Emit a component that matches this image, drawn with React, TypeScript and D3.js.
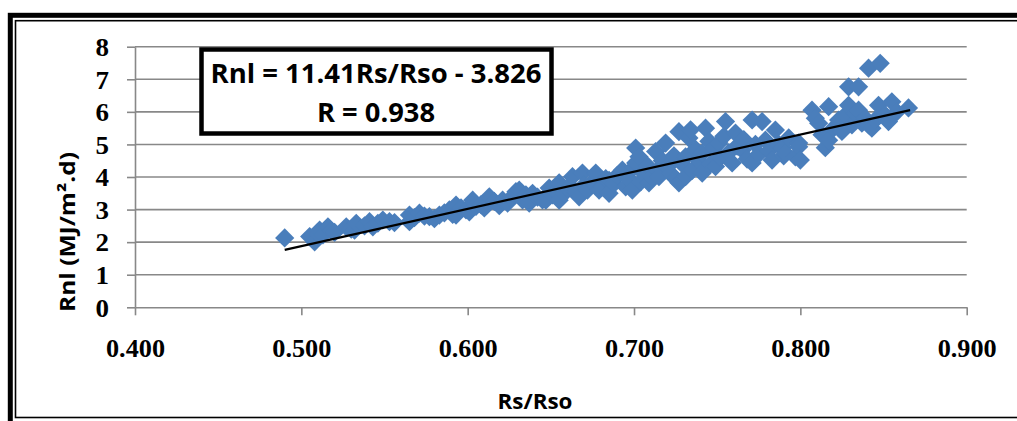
import React, { useEffect, useRef } from 'react';
import * as d3 from 'd3';

// Rs/Rso (x) and Rnl (y) readings
const ratioValues = [
  0.490, 0.505, 0.508, 0.510, 0.511, 0.513, 0.516, 0.518, 0.520, 0.527,
  0.530, 0.532, 0.533, 0.538, 0.541, 0.543, 0.546, 0.549, 0.553, 0.556,
  0.565, 0.565, 0.568, 0.571, 0.574, 0.577, 0.580, 0.583, 0.586, 0.589,
  0.591, 0.593, 0.593, 0.596, 0.599, 0.601, 0.603, 0.605, 0.608, 0.610,
  0.613, 0.616, 0.619, 0.621, 0.624, 0.626, 0.629, 0.631, 0.633, 0.635,
  0.637, 0.639, 0.642, 0.645, 0.647, 0.649, 0.651, 0.653, 0.655, 0.655,
  0.658, 0.660, 0.663, 0.665, 0.667, 0.669, 0.670, 0.672, 0.675, 0.677,
  0.679, 0.681, 0.683, 0.685, 0.685, 0.688, 0.690, 0.693, 0.693, 0.695,
  0.697, 0.699, 0.700, 0.701, 0.701, 0.703, 0.704, 0.706, 0.708, 0.709,
  0.711, 0.713, 0.714, 0.715, 0.717, 0.719, 0.720, 0.722, 0.724, 0.725,
  0.727, 0.727, 0.729, 0.731, 0.731, 0.733, 0.734, 0.735, 0.737, 0.739,
  0.741, 0.741, 0.743, 0.745, 0.746, 0.748, 0.749, 0.751, 0.752, 0.754,
  0.755, 0.757, 0.759, 0.761, 0.762, 0.765, 0.766, 0.768, 0.771, 0.771,
  0.773, 0.775, 0.777, 0.779, 0.781, 0.783, 0.785, 0.787, 0.789, 0.790,
  0.791, 0.793, 0.797, 0.799, 0.799, 0.800, 0.807, 0.809, 0.811, 0.813,
  0.815, 0.817, 0.817, 0.820, 0.823, 0.825, 0.827, 0.829, 0.829, 0.831,
  0.833, 0.835, 0.835, 0.837, 0.839, 0.841, 0.841, 0.843, 0.845, 0.847,
  0.848, 0.851, 0.853, 0.855, 0.858, 0.865,
];

const rnlValues = [
  2.13, 2.17, 2.01, 2.25, 2.37, 2.22, 2.47, 2.35, 2.30, 2.47,
  2.40, 2.37, 2.58, 2.50, 2.63, 2.47, 2.58, 2.68, 2.63, 2.60,
  2.63, 2.83, 2.75, 2.89, 2.80, 2.78, 2.72, 2.83, 2.90, 2.99,
  2.85, 3.14, 2.83, 3.05, 2.99, 2.93, 3.29, 3.10, 3.15, 3.05,
  3.39, 3.25, 3.12, 3.29, 3.20, 3.35, 3.55, 3.60, 3.30, 3.45,
  3.20, 3.50, 3.38, 3.30, 3.29, 3.66, 3.45, 3.55, 3.82, 3.29,
  3.50, 3.65, 4.01, 3.55, 3.39, 4.12, 3.75, 3.60, 3.85, 4.12,
  3.60, 3.70, 3.95, 3.90, 3.50, 3.80, 4.05, 4.12, 4.21, 3.70,
  3.95, 3.60, 4.30, 4.89, 4.43, 4.62, 3.85, 4.10, 4.35, 3.82,
  4.00, 4.78, 4.20, 4.01, 4.50, 5.04, 4.30, 4.10, 4.65, 3.95,
  5.39, 3.82, 4.40, 4.62, 4.01, 5.20, 5.45, 4.20, 4.85, 4.50,
  4.73, 4.12, 5.50, 5.10, 4.40, 4.90, 4.32, 5.04, 4.60, 5.25,
  5.70, 4.75, 4.43, 5.35, 4.95, 4.83, 5.15, 4.55, 5.75, 4.43,
  5.00, 4.70, 5.70, 5.13, 4.80, 4.52, 5.44, 5.00, 4.89, 4.65,
  4.73, 5.20, 4.62, 5.04, 4.93, 4.52, 6.05, 5.80, 5.65, 5.30,
  4.90, 5.13, 6.16, 5.50, 5.75, 5.40, 5.90, 6.20, 6.77, 5.60,
  5.95, 6.77, 6.05, 5.65, 5.80, 7.34, 5.60, 5.50, 5.75, 6.20,
  7.49, 5.90, 5.70, 6.31, 6.00, 6.12,
];

const xTicks = [0.4, 0.5, 0.6, 0.7, 0.8, 0.9];
const yTicks = [0, 1, 2, 3, 4, 5, 6, 7, 8];

// linear fit shown in the box
const slope = 11.41;
const intercept = -3.826;
const fitRange = [0.49, 0.866];

const W = 1017;
const H = 421;

const App: React.FC = () => {
  const svgRef = useRef<SVGSVGElement>(null);

  useEffect(() => {
    document.body.style.margin = '0';
    if (!svgRef.current) return;

    const margin = { top: 46.7, right: 50.3, bottom: 113.7, left: 135 };

    const svg = d3.select(svgRef.current);
    svg.selectAll('*').remove();

    svg.append('rect').attr('width', W).attr('height', H).attr('fill', '#fff');

    // double frame
    svg.append('rect')
      .attr('x', 10.3).attr('y', 15.3)
      .attr('width', W + 20).attr('height', H - 5)
      .attr('fill', 'none').attr('stroke', '#000').attr('stroke-width', 5);
    svg.append('rect')
      .attr('x', 15.5).attr('y', 20.7)
      .attr('width', W + 20).attr('height', 396.8)
      .attr('fill', 'none').attr('stroke', '#000').attr('stroke-width', 1.6);

    const x = d3.scaleLinear().domain([0.4, 0.9]).range([margin.left, W - margin.right]);
    const y = d3.scaleLinear().domain([0, 8]).range([H - margin.bottom, margin.top]);

    const grey = '#888888';
    const serif = '"Liberation Serif", "Times New Roman", serif';

    // gridlines
    svg.append('g')
      .selectAll('line')
      .data(yTicks.slice(1))
      .enter()
      .append('line')
      .attr('x1', x(0.4)).attr('x2', x(0.9))
      .attr('y1', d => y(d)).attr('y2', d => y(d))
      .attr('stroke', grey).attr('stroke-width', 1.6);

    // y axis
    const yAxis = svg.append('g')
      .attr('transform', `translate(${x(0.4)},0)`)
      .call(d3.axisLeft(y).tickValues(yTicks).tickSize(8).tickSizeOuter(0).tickPadding(18).tickFormat(d3.format('d')));
    yAxis.selectAll('line, path').attr('stroke', grey).attr('stroke-width', 1.6);
    yAxis.selectAll('text')
      .attr('fill', '#000')
      .attr('dy', '0.34em')
      .attr('textLength', 13.5).attr('lengthAdjust', 'spacingAndGlyphs')
      .style('font-family', serif)
      .style('font-weight', 'bold')
      .style('font-size', '26px');

    // x axis
    const xAxis = svg.append('g')
      .attr('transform', `translate(0,${y(0)})`)
      .call(d3.axisBottom(x).tickValues(xTicks).tickSize(8).tickSizeOuter(0).tickPadding(25).tickFormat(d3.format('.3f')));
    xAxis.selectAll('line, path').attr('stroke', grey).attr('stroke-width', 1.6);
    xAxis.selectAll('text')
      .attr('fill', '#000')
      .attr('dy', '0.66em')
      .attr('textLength', 59).attr('lengthAdjust', 'spacingAndGlyphs')
      .style('font-family', serif)
      .style('font-weight', 'bold')
      .style('font-size', '26px');

    // points
    const points = ratioValues.map((v, i) => ({ r: v, n: rnlValues[i] }));
    const diamond = d3.symbol().type(d3.symbolSquare).size(185);
    svg.append('g')
      .selectAll('path')
      .data(points)
      .enter()
      .append('path')
      .attr('d', diamond)
      .attr('transform', d => `translate(${x(d.r)},${y(d.n)}) rotate(45)`)
      .attr('fill', '#4A7EBB');

    // trend line
    const line = d3.line<number>()
      .x(d => x(d))
      .y(d => y(slope * d + intercept));
    svg.append('path')
      .datum(fitRange)
      .attr('d', line)
      .attr('fill', 'none')
      .attr('stroke', '#000')
      .attr('stroke-width', 2.2);

    // equation box
    const sans = '"Open Sans", "Noto Sans", sans-serif';
    svg.append('rect')
      .attr('x', 201.5).attr('y', 49.5)
      .attr('width', 350).attr('height', 84)
      .attr('fill', '#fff').attr('stroke', '#000').attr('stroke-width', 4.5);
    svg.append('text')
      .attr('x', 376).attr('y', 83.3)
      .attr('text-anchor', 'middle')
      .attr('textLength', 331).attr('lengthAdjust', 'spacingAndGlyphs')
      .style('font-family', sans).style('font-weight', 'bold').style('font-size', '27px')
      .text('Rnl = 11.41Rs/Rso - 3.826');
    svg.append('text')
      .attr('x', 376).attr('y', 121.7)
      .attr('text-anchor', 'middle')
      .attr('textLength', 118).attr('lengthAdjust', 'spacingAndGlyphs')
      .style('font-family', sans).style('font-weight', 'bold').style('font-size', '27px')
      .text('R = 0.938');

    // axis titles
    svg.append('text')
      .attr('x', 535).attr('y', 409)
      .attr('text-anchor', 'middle')
      .attr('textLength', 75).attr('lengthAdjust', 'spacingAndGlyphs')
      .style('font-family', sans).style('font-weight', 'bold').style('font-size', '21px')
      .text('Rs/Rso');
    svg.append('text')
      .attr('transform', 'translate(75,232) rotate(-90)')
      .attr('text-anchor', 'middle')
      .attr('textLength', 160).attr('lengthAdjust', 'spacingAndGlyphs')
      .style('font-family', sans).style('font-weight', 'bold').style('font-size', '21px')
      .text('Rnl (MJ/m².d)');
  }, []);

  return <svg ref={svgRef} width={W} height={H} style={{ display: 'block' }} />;
};

export default App;
